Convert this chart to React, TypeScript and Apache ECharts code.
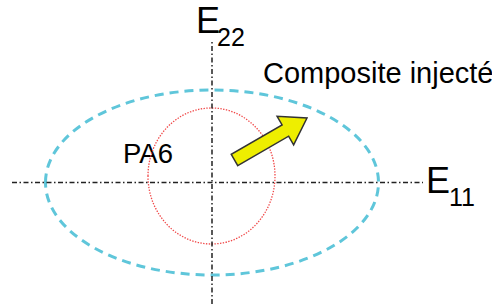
import React, { useEffect, useRef } from "react";
import * as echarts from "echarts";

// Diagram coordinates (origin at the axes' crossing, 1 unit ≈ 1 px)
const X_RANGE = [-212, 280];
const Y_RANGE = [-121.5, 182.5];

// axis lines: [x, y] end points
const axisE11 = [[-200, 0], [211, 0]];
const axisE22 = [[0, -121.5], [0, 140.5]];

// ellipses: [cx, cy, rx, ry]
const compositeEllipse = [[0, 0, 166.5, 92.5]];
const pa6Ellipse = [[-0.5, 6.5, 63.5, 68]];

// arrow: [tailX, tailY, tipX, tipY]
const arrowData = [[22.5, 22.5, 95, 64.5]];

const FONT = 'Arial, "Liberation Sans", sans-serif';

export default function App() {
  const ref = useRef<HTMLDivElement>(null);
  useEffect(() => {
    if (!ref.current) return;
    const chart = echarts.init(ref.current, undefined, { renderer: "svg" });

    const ellipseRender = (stroke: string, lineWidth: number, lineDash: number[]) =>
      (params: any, api: any) => {
        const c = api.coord([api.value(0), api.value(1)]);
        const s = api.size([api.value(2), api.value(3)]);
        return {
          type: "ellipse",
          shape: { cx: c[0], cy: c[1], rx: s[0], ry: s[1] },
          style: { fill: "none", stroke, lineWidth, lineDash },
        };
      };

    const arrowRender = (params: any, api: any) => {
      const t = api.coord([api.value(0), api.value(1)]);
      const p = api.coord([api.value(2), api.value(3)]);
      const dx = p[0] - t[0];
      const dy = p[1] - t[1];
      const len = Math.sqrt(dx * dx + dy * dy);
      const ux = dx / len, uy = dy / len;
      const nx = -uy, ny = ux;
      const hw = 6.5, headLen = 25, headHw = 16.5;
      const bx = p[0] - ux * headLen, by = p[1] - uy * headLen;
      const pts = [
        [t[0] + nx * hw, t[1] + ny * hw],
        [bx + nx * hw, by + ny * hw],
        [bx + nx * headHw, by + ny * headHw],
        [p[0], p[1]],
        [bx - nx * headHw, by - ny * headHw],
        [bx - nx * hw, by - ny * hw],
        [t[0] - nx * hw, t[1] - ny * hw],
      ];
      return {
        type: "polygon",
        shape: { points: pts },
        style: { fill: "#eeee00", stroke: "#333333", lineWidth: 1.5, lineJoin: "miter" },
      };
    };

    const axisStyle = { color: "#222222", width: 1.5, type: [5, 2.5, 1.5, 2.5] as any };

    chart.setOption({
      animation: false,
      grid: { left: 0, right: 0, top: 0, bottom: 0 },
      xAxis: { type: "value", min: X_RANGE[0], max: X_RANGE[1], show: false },
      yAxis: { type: "value", min: Y_RANGE[0], max: Y_RANGE[1], show: false },
      series: [
        { type: "line", data: axisE11, symbol: "none", lineStyle: axisStyle, silent: true },
        { type: "line", data: axisE22, symbol: "none", lineStyle: axisStyle, silent: true },
        {
          type: "custom",
          data: compositeEllipse,
          renderItem: ellipseRender("#5fc6da", 3, [9, 6]),
          silent: true,
        },
        {
          type: "custom",
          data: pa6Ellipse,
          renderItem: ellipseRender("#f04848", 1.3, [1.4, 1.4]),
          silent: true,
        },
        { type: "custom", data: arrowData, renderItem: arrowRender, silent: true, z: 5 },
      ],
      graphic: [
        { type: "text", left: 196, top: 2.5, style: { text: "E", font: `36px ${FONT}`, fill: "#000" } },
        { type: "text", left: 217, top: 24, style: { text: "22", font: `25px ${FONT}`, fill: "#000" } },
        { type: "text", left: 426, top: 162.5, style: { text: "E", font: `36px ${FONT}`, fill: "#000" } },
        { type: "text", left: 449, top: 184, style: { text: "11", font: `25px ${FONT}`, fill: "#000" } },
        { type: "text", left: 263, top: 58.5, style: { text: "Composite injecté", font: `29px ${FONT}`, fill: "#000" } },
        { type: "text", left: 123, top: 139, style: { text: "PA6", font: `27.5px ${FONT}`, fill: "#000" } },
      ],
    });
    return () => chart.dispose();
  }, []);
  return (
    <div
      ref={ref}
      style={{ position: "fixed", left: 0, top: 0, width: 492, height: 304, background: "#fff" }}
    />
  );
}
